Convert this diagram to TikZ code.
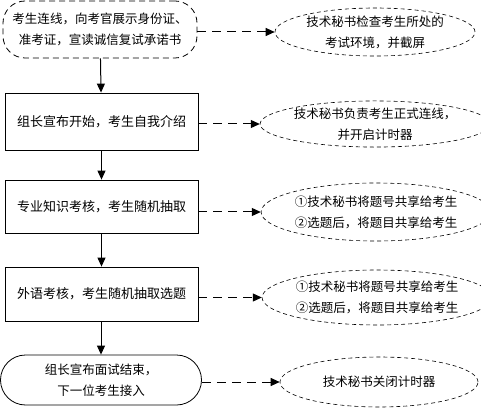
\documentclass[tikz,border=0pt]{standalone}
\usepackage{fontspec}
\setmainfont{Noto Sans CJK SC}
\usetikzlibrary{arrows.meta,shapes.geometric}
\tikzset{
  flowbox/.style={draw, line width=0.8pt, align=center, inner sep=0pt},
  stepfont/.style={font=\fontsize{13}{21}\selectfont},
  noteell/.style={draw, ellipse, line width=0.6pt, dash pattern=on 4pt off 3pt, align=center, inner sep=0pt},
  downarrow/.style={line width=1pt, -{Triangle[length=9pt,width=8pt]}},
  notearrow/.style={line width=1pt, dash pattern=on 9pt off 6pt, -{Triangle[length=9pt,width=8pt]}}
}

\begin{document}
\begin{tikzpicture}[x=1pt, y=-1pt, font=\fontsize{12.5}{21}\selectfont]
		%%%%% START %%%%%
		\useasboundingbox (0, 0) rectangle (481, 411);
		
		% left column
		\node[flowbox, dash pattern=on 6pt off 4pt, rounded corners=22pt, minimum width=194pt, minimum height=57pt] (connect) at (100, 29.5) {考生连线，向考官展示身份证、\\准考证，宣读诚信复试承诺书};
		\node[flowbox, stepfont, minimum width=193pt, minimum height=57pt] (intro) at (101.5, 121.5) {组长宣布开始，考生自我介绍};
		\node[flowbox, stepfont, minimum width=193pt, minimum height=53pt] (major) at (101.5, 206.5) {专业知识考核，考生随机抽取};
		\node[flowbox, stepfont, minimum width=193pt, minimum height=54pt] (lang) at (101.5, 294) {外语考核，考生随机抽取选题};
		\node[flowbox, rounded corners=25pt, minimum width=201pt, minimum height=50pt] (finish) at (101, 380) {组长宣布面试结束，\\下一位考生接入};
		
		% right column
		\node[noteell, minimum width=200pt, minimum height=48pt] (check) at (375, 32) {技术秘书检查考生所处的\\考试环境，并截屏};
		\node[noteell, minimum width=200pt, minimum height=43pt] (timer) at (375, 124) {技术秘书负责考生正式连线，\\并开启计时器};
		\node[noteell, minimum width=202pt, minimum height=58pt] (share1) at (376, 212) {①技术秘书将题号共享给考生\\②选题后，将题目共享给考生};
		\node[noteell, minimum width=200pt, minimum height=55pt] (share2) at (377, 297.5) {①技术秘书将题号共享给考生\\②选题后，将题目共享给考生};
		\node[noteell, minimum width=198pt, minimum height=50pt] (close) at (379, 382) {技术秘书关闭计时器};
		
		% connectors
		\draw[downarrow] (connect) -- (intro);
		\draw[downarrow] (intro) -- (major);
		\draw[downarrow] (major) -- (lang);
		\draw[downarrow] (lang.south -| finish.north) -- (finish);
		
		\draw[notearrow] (connect.east |- check.west) -- (check.west);
		\draw[notearrow] (intro.east |- timer.west) -- (timer.west);
		\draw[notearrow] (major.east |- share1.west) -- (share1.west);
		\draw[notearrow] (lang.east |- share2.west) -- (share2.west);
		\draw[notearrow] (finish.east |- close.west) -- (close.west);
		
		%%%%% END %%%%%
	\end{tikzpicture}
\end{document}
